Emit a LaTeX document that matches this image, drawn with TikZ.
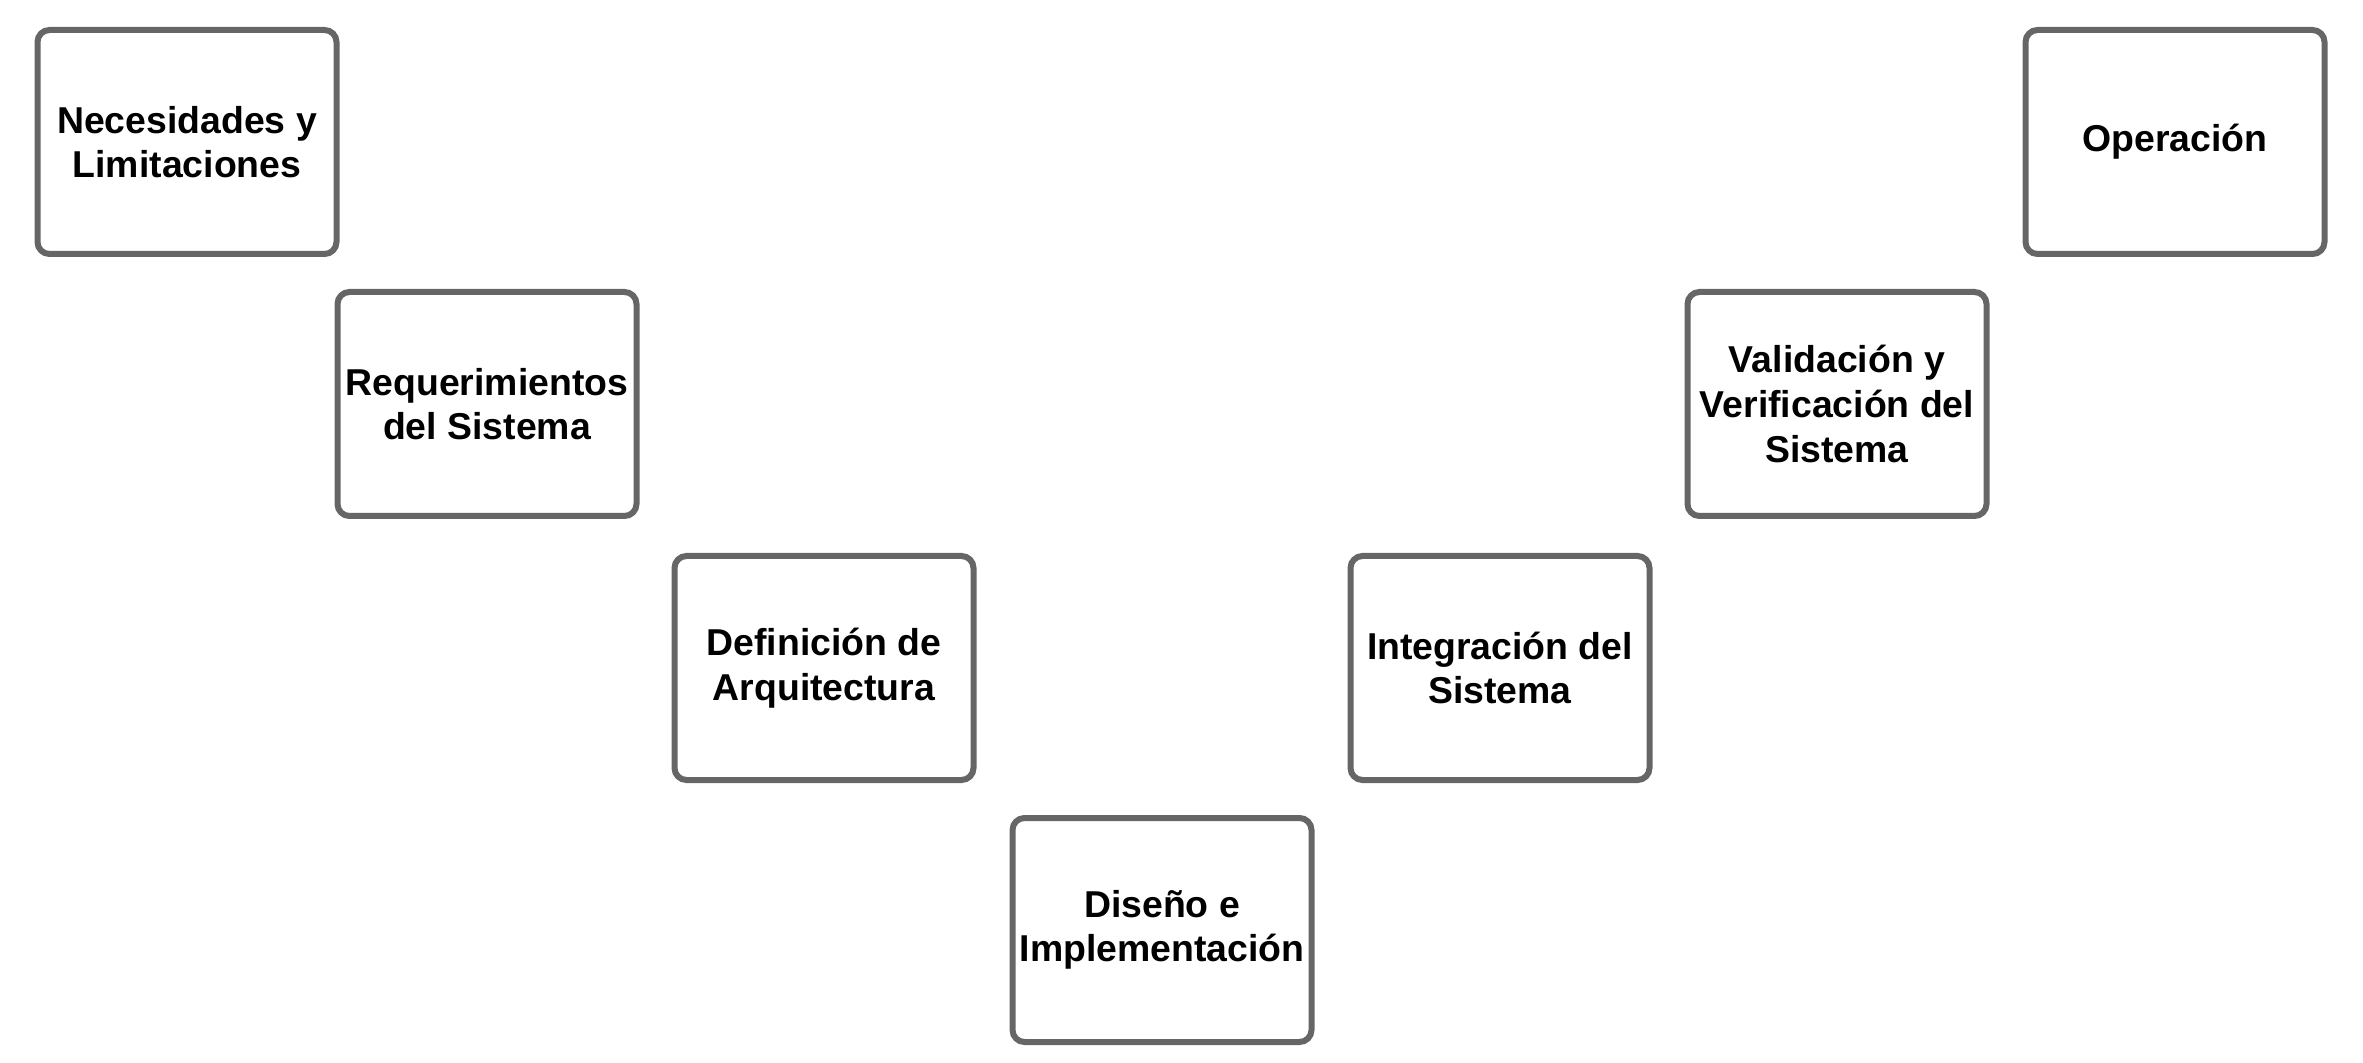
\documentclass[tikz,border=0pt]{standalone}
\usepackage{fontspec}
\setmainfont{Liberation Sans}
\usepackage{xcolor}
\usepackage{tikz}
\usetikzlibrary{positioning}
\definecolor{edge1}{HTML}{666666}
\definecolor{ink}{HTML}{000000}

\tikzset{
  fase/.style={draw=edge1,line width=3pt,rounded corners=6pt,fill=white,
               minimum width=149.5pt,minimum height=112pt,inner sep=0pt,
               align=center,text=ink,
               font=\fontsize{18.7}{22.3}\selectfont\bfseries}
}

\begin{document}
\begin{tikzpicture}[x=0.5pt,y=0.5pt]
  \useasboundingbox (0,0) rectangle (2363,1062);
  % rama izquierda
  \node[fase] (necesidades) at (187,920) {Necesidades y\\Limitaciones};
  \node[fase] (requerimientos) at (487,658) {Requerimientos\\del Sistema};
  \node[fase] (arquitectura) at (824,394) {Definición de\\Arquitectura};
  % vertice
  \node[fase] (diseno) at (1162,132) {Diseño e\\Implementación};
  % rama derecha
  \node[fase] (integracion) at (1500,394) {Integración del\\Sistema};
  \node[fase] (validacion) at (1837,658) {Validación y\\Verificación del\\Sistema};
  \node[fase] (operacion) at (2175,920) {Operación};
\end{tikzpicture}
\end{document}
